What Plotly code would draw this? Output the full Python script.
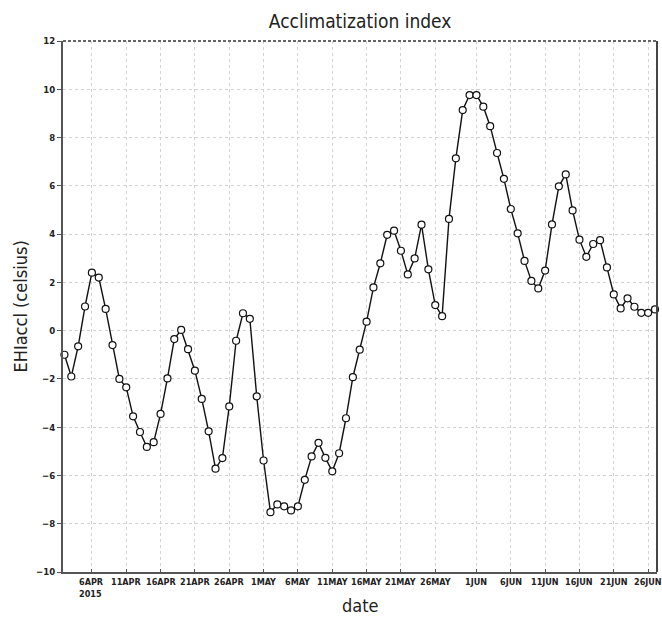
import plotly.graph_objects as go
import pandas as pd

start_date = "2015-04-02"
values = [
    -1.0, -1.9, -0.65, 1.0, 2.4, 2.2, 0.9, -0.6, -2.0, -2.35,
    -3.55, -4.2, -4.82, -4.62, -3.45, -1.98, -0.35, 0.03, -0.77, -1.66,
    -2.83, -4.17, -5.72, -5.28, -3.14, -0.42, 0.72, 0.49, -2.72, -5.38,
    -7.52, -7.2, -7.28, -7.45, -7.28, -6.18, -5.21, -4.65, -5.27, -5.83,
    -5.08, -3.63, -1.93, -0.79, 0.37, 1.79, 2.79, 3.97, 4.14, 3.31,
    2.33, 2.99, 4.39, 2.54, 1.06, 0.6, 4.63, 7.14, 9.14, 9.76,
    9.76, 9.28, 8.47, 7.36, 6.29, 5.04, 4.03, 2.89, 2.06, 1.75,
    2.49, 4.4, 5.98, 6.47, 4.98, 3.77, 3.06, 3.59, 3.75, 2.62,
    1.5, 0.92, 1.34, 0.99, 0.74, 0.74, 0.88,
]
dates = pd.date_range(start_date, periods=len(values), freq="D")

tick_dates = ["2015-04-06", "2015-04-11", "2015-04-16", "2015-04-21", "2015-04-26",
              "2015-05-01", "2015-05-06", "2015-05-11", "2015-05-16", "2015-05-21", "2015-05-26",
              "2015-06-01", "2015-06-06", "2015-06-11", "2015-06-16", "2015-06-21", "2015-06-26"]
tick_labels = ["6APR<br>2015", "11APR", "16APR", "21APR", "26APR",
               "1MAY", "6MAY", "11MAY", "16MAY", "21MAY", "26MAY",
               "1JUN", "6JUN", "11JUN", "16JUN", "21JUN", "26JUN"]
y_ticks = list(range(-10, 13, 2))

title_text = "Acclimatization index"
x_title = "date"
y_title = "EHIaccl (celsius)"

cond = "DejaVu Sans Condensed, Liberation Sans Narrow, Arial Narrow, sans-serif"
txt = "#222222"

fig = go.Figure()
fig.add_trace(go.Scatter(
    x=dates, y=values, mode="lines+markers",
    line=dict(color="#111111", width=1.4),
    marker=dict(symbol="circle", size=7, color="white",
                line=dict(color="#111111", width=1.2)),
    showlegend=False, cliponaxis=False,
))

fig.update_layout(
    width=662, height=622,
    margin=dict(l=63, r=5, t=41, b=50, autoexpand=False),
    paper_bgcolor="white", plot_bgcolor="white",
    title=dict(text=title_text, x=0.544, xanchor="center", y=0.966, yanchor="middle",
               font=dict(family=cond, size=19, color=txt)),
    xaxis=dict(
        range=["2015-04-01 19:00", "2015-06-27 07:00"],
        tickmode="array", tickvals=tick_dates, showticklabels=False,
        showgrid=True, gridcolor="#d2d2d2", griddash="dot", gridwidth=1,
        showline=True, linecolor="#555555", linewidth=2,
        ticks="inside", ticklen=3, tickcolor="#555555",
        zeroline=False, automargin=False,
    ),
    yaxis=dict(
        range=[-10, 12], tickmode="array", tickvals=y_ticks,
        tickfont=dict(family=cond, size=9.5, color=txt, weight="bold"),
        showgrid=True, gridcolor="#d2d2d2", griddash="dot", gridwidth=1,
        showline=True, linecolor="#555555", linewidth=2,
        ticks="outside", ticklen=4, tickcolor="#555555",
        zeroline=False, automargin=False,
    ),
)

for d, lab in zip(tick_dates, tick_labels):
    fig.add_annotation(x=d, y=0, xref="x", yref="paper", text=lab, showarrow=False,
                       xanchor="center", yanchor="top", yshift=-3, align="left",
                       font=dict(family=cond, size=9, color=txt, weight="bold"))

fig.add_annotation(x=0.5, y=0, xref="paper", yref="paper", text=x_title, showarrow=False,
                   xanchor="center", yanchor="top", yshift=-21,
                   font=dict(family=cond, size=18, color=txt))
fig.add_annotation(x=0, y=0.5, xref="paper", yref="paper", text=y_title, showarrow=False,
                   xanchor="center", yanchor="middle", xshift=-43, textangle=-90,
                   font=dict(family=cond, size=18, color=txt))

fig.add_shape(type="line", xref="paper", yref="paper", x0=0, x1=1, y0=1, y1=1,
              line=dict(color="#666666", width=2, dash="3px,2px"))
fig.add_shape(type="line", xref="paper", yref="paper", x0=1, x1=1, y0=0, y1=1,
              line=dict(color="#444444", width=2))

fig.write_html("out.html", config={"displayModeBar": False},
               post_script="document.body.style.margin='0px';document.body.style.overflow='hidden';")
